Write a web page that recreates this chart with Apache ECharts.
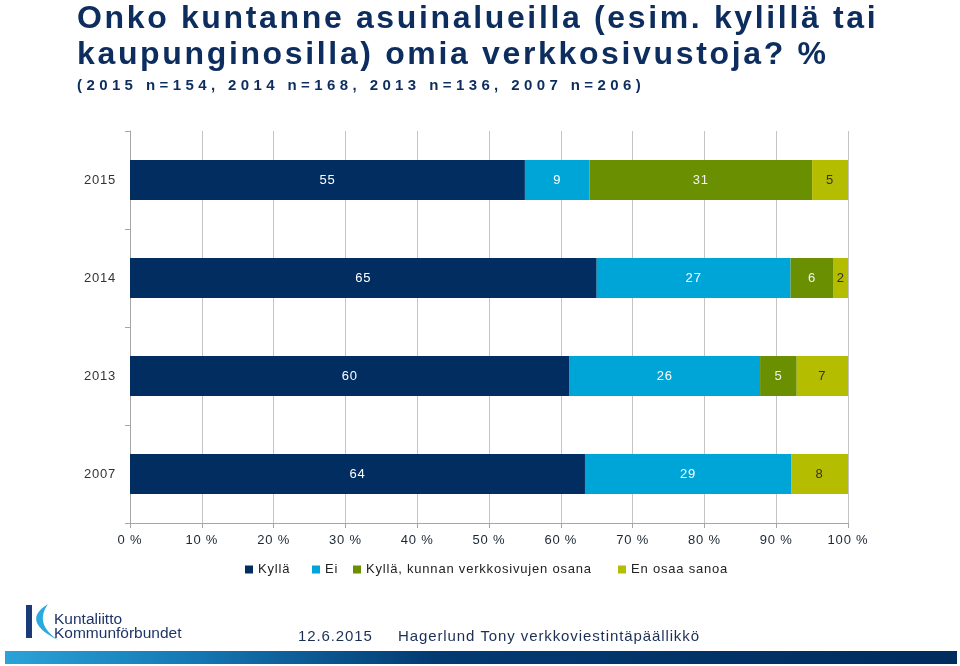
<!DOCTYPE html>
<html>
<head>
<meta charset="utf-8">
<script src="https://cdn.jsdelivr.net/npm/echarts@6/dist/echarts.min.js"></script>
<style>
html,body{margin:0;padding:0;background:#fff;}
#chart{width:960px;height:666px;}
</style>
</head>
<body>
<div id="chart"></div>
<script>
// ---- data ----
const categories = ['2015', '2014', '2013', '2007'];
const seriesNames = ['Kyllä', 'Ei', 'Kyllä, kunnan verkkosivujen osana', 'En osaa sanoa'];
const kylla = [55, 65, 60, 64];
const ei = [9, 27, 26, 29];
const kyllaOsana = [31, 6, 5, 0];
const enOsaa = [5, 2, 7, 8];
const xTicks = [0, 10, 20, 30, 40, 50, 60, 70, 80, 90, 100];
const titleLine1 = 'Onko kuntanne asuinalueilla (esim. kylillä tai';
const titleLine2 = 'kaupunginosilla) omia verkkosivustoja? %';
const subtitle = '(2015 n=154, 2014 n=168, 2013 n=136, 2007 n=206)';
const footerDate = '12.6.2015';
const footerAuthor = 'Hagerlund Tony verkkoviestintäpäällikkö';
const logoLine1 = 'Kuntaliitto';
const logoLine2 = 'Kommunförbundet';

// ---- letter spacing emulation (PowerPoint-like spaced text) ----
(function () {
  const LS = { b32: 2.65, b15: 4.4, n13: 0.8, n15: 0.9 };
  const proto = CanvasRenderingContext2D.prototype;
  ['fillText', 'strokeText'].forEach(function (fn) {
    const orig = proto[fn];
    proto[fn] = function (t, x, y, mw) {
      const f = this.font || '';
      const m = f.match(/([\d.]+)px/);
      const b = /bold|[6-9]00/.test(f);
      const key = (b ? 'b' : 'n') + (m ? (Math.abs(+m[1] - Math.round(+m[1])) < 0.01 ? Math.round(+m[1]) : 'x') : '');
      const ls = LS[key] || 0;
      const has = 'letterSpacing' in this;
      if (has) this.letterSpacing = ls + 'px';
      const r = mw === undefined ? orig.call(this, t, x, y) : orig.call(this, t, x, y, mw);
      if (has) this.letterSpacing = '0px';
      return r;
    };
  });
})();

const raw = [kylla, ei, kyllaOsana, enOsaa];
const totals = categories.map((c, i) => raw.reduce((s, arr) => s + arr[i], 0));
const colors = ['#022d61', '#00a5d8', '#6a8f00', '#b5bd00'];
const labelColors = ['#ffffff', '#ffffff', '#f2f2f2', '#333333'];
const FONT = '"Liberation Sans", Arial, sans-serif';

// logo swoosh outline (decorative, sampled from two quadratic curves)
function quad(p0, p1, p2, n) {
  const pts = [];
  for (let i = 0; i <= n; i++) {
    const t = i / n, a = (1 - t) * (1 - t), b = 2 * (1 - t) * t, c = t * t;
    pts.push([a * p0[0] + b * p1[0] + c * p2[0], a * p0[1] + b * p1[1] + c * p2[1]]);
  }
  return pts;
}
const swoosh = quad([48, 604], [20, 621], [58, 640], 16).concat(quad([58, 640], [34, 624], [48, 604], 16).slice(1));

const chart = echarts.init(document.getElementById('chart'), null, { renderer: 'canvas' });

const series = raw.map((arr, k) => ({
  name: seriesNames[k],
  type: 'bar',
  stack: 'total',
  barWidth: 40,
  itemStyle: { color: colors[k] },
  label: {
    show: true,
    position: 'inside',
    color: labelColors[k],
    fontSize: 13,
    fontFamily: FONT,
    textBorderWidth: 0,
    formatter: p => (arr[p.dataIndex] ? String(arr[p.dataIndex]) : '')
  },
  emphasis: { disabled: true },
  data: arr.map((v, i) => v / totals[i] * 100)
}));

const legendLefts = [245, 312, 353, 618];

const option = {
  animation: false,
  backgroundColor: '#ffffff',
  grid: { left: 130, right: 112, top: 131, bottom: 143, containLabel: false },
  xAxis: {
    type: 'value',
    min: xTicks[0],
    max: xTicks[xTicks.length - 1],
    interval: xTicks[1] - xTicks[0],
    axisLine: { show: true, lineStyle: { color: '#a6a6a6', width: 1 } },
    axisTick: { show: true, length: 5, lineStyle: { color: '#a6a6a6' } },
    splitLine: { show: true, lineStyle: { color: '#c4c4c4', width: 1 } },
    axisLabel: { formatter: '{value} %', color: '#1c2633', fontSize: 13, fontFamily: FONT, margin: 11 }
  },
  yAxis: {
    type: 'category',
    inverse: true,
    data: categories,
    axisLine: { show: true, lineStyle: { color: '#a6a6a6', width: 1 } },
    axisTick: { show: true, length: 5, lineStyle: { color: '#a6a6a6' } },
    axisLabel: { color: '#333333', fontSize: 13, fontFamily: FONT, margin: 14 }
  },
  legend: seriesNames.map((n, k) => ({
    data: [n],
    left: legendLefts[k],
    top: 563,
    padding: 0,
    icon: 'rect',
    itemWidth: 8,
    itemHeight: 8,
    selectedMode: false,
    textStyle: { color: '#222222', fontSize: 13, fontFamily: FONT }
  })),
  series: series,
  graphic: [
    { type: 'text', x: 77, y: 19, style: { text: titleLine1, font: 'bold 32px ' + FONT, fill: '#0c2d5e', align: 'left', verticalAlign: 'middle' } },
    { type: 'text', x: 77, y: 55, style: { text: titleLine2, font: 'bold 32px ' + FONT, fill: '#0c2d5e', align: 'left', verticalAlign: 'middle' } },
    { type: 'text', x: 77, y: 86, style: { text: subtitle, font: 'bold 15px ' + FONT, fill: '#0c2d5e', align: 'left', verticalAlign: 'middle' } },
    // logo
    { type: 'rect', shape: { x: 26, y: 605, width: 6, height: 33 }, style: { fill: '#1b3a78' } },
    { type: 'polygon', shape: { points: swoosh }, style: { fill: '#2aa9dc' } },
    { type: 'text', x: 54, y: 620, style: { text: logoLine1, font: '15.5px ' + FONT, fill: '#1e3468', align: 'left', verticalAlign: 'middle' } },
    { type: 'text', x: 54, y: 634, style: { text: logoLine2, font: '15.5px ' + FONT, fill: '#1e3468', align: 'left', verticalAlign: 'middle' } },
    // footer
    { type: 'text', x: 298, y: 637, style: { text: footerDate, font: '15px ' + FONT, fill: '#1b2f55', align: 'left', verticalAlign: 'middle' } },
    { type: 'text', x: 398, y: 637, style: { text: footerAuthor, font: '15px ' + FONT, fill: '#1b2f55', align: 'left', verticalAlign: 'middle' } },
    {
      type: 'rect', shape: { x: 5, y: 651, width: 952, height: 13 },
      style: {
        fill: new echarts.graphic.LinearGradient(0, 0, 1, 0, [
          { offset: 0, color: '#2aa3d8' },
          { offset: 0.2, color: '#1477b3' },
          { offset: 0.45, color: '#033a72' },
          { offset: 1, color: '#002c5e' }
        ])
      }
    }
  ]
};

chart.setOption(option);
</script>
</body>
</html>
